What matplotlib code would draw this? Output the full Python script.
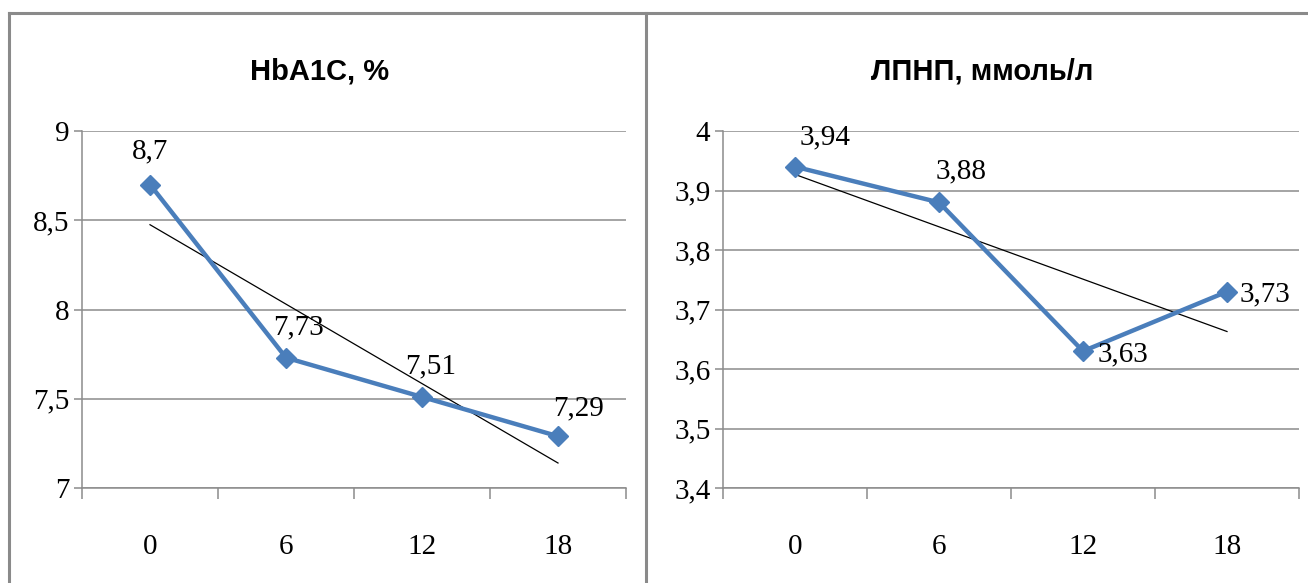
import matplotlib
matplotlib.use("Agg")
import numpy as np
import matplotlib.pyplot as plt
from matplotlib.lines import Line2D
from matplotlib.ticker import FuncFormatter, FixedLocator

# months of follow-up
months = ["0", "6", "12", "18"]

hba1c = [8.7, 7.73, 7.51, 7.29]
ldl = [3.94, 3.88, 3.63, 3.73]

# per-point label offsets (points) for the value annotations
hba1c_offsets = [(0, 24), (9, 22), (6, 22), (15, 20)]
ldl_offsets = [(22, 21), (16, 22), (29, -2), (27, -2)]

LINE_BLUE = "#4a7ebb"
GRID_GRAY = "#8c8c8c"
SERIF = ["Liberation Serif", "DejaVu Serif"]
TITLE_FONT = ["Liberation Sans Narrow", "Liberation Sans", "DejaVu Sans"]


def comma(v, pos=None):
    s = f"{v:g}"
    return s.replace(".", ",")


def draw_panel(ax, values, offsets, title, yticks, title_x):
    x = np.arange(len(values))
    ax.set_xlim(-0.5, len(values) - 0.5)
    ax.set_ylim(yticks[0], yticks[-1])

    # horizontal gridlines
    ax.set_yticks(yticks)
    ax.yaxis.grid(True, color=GRID_GRAY, linewidth=1.1)
    ax.set_axisbelow(True)

    # linear trend over the points
    k, b = np.polyfit(x, values, 1)
    ax.plot(x, k * x + b, color="black", linewidth=0.9, zorder=2)

    ax.plot(x, values, color=LINE_BLUE, linewidth=3.2, marker="D",
            markersize=10, markeredgecolor=LINE_BLUE, zorder=3)

    for xi, v, off in zip(x, values, offsets):
        ax.annotate(comma(v), (xi, v), xytext=off, textcoords="offset points",
                    ha="center", va="center", fontsize=21, family=SERIF,
                    color="black", zorder=4)

    # category ticks on boundaries, labels in the middle
    ax.xaxis.set_major_locator(FixedLocator(np.arange(-0.5, len(values), 1.0)))
    ax.xaxis.set_minor_locator(FixedLocator(x))
    ax.xaxis.set_major_formatter(FuncFormatter(lambda v, p: ""))
    ax.set_xticks(x, months, minor=True)
    ax.tick_params(axis="x", which="major", direction="out", length=8,
                   color=GRID_GRAY, width=1.1)
    ax.tick_params(axis="x", which="minor", length=0, pad=33, labelsize=21)
    ax.tick_params(axis="y", direction="out", length=6, color=GRID_GRAY,
                   width=1.1, pad=3, labelsize=21)
    ax.yaxis.set_major_formatter(FuncFormatter(comma))
    for lab in ax.get_xticklabels(minor=True) + ax.get_yticklabels():
        lab.set_family(SERIF)

    for side in ("top", "right"):
        ax.spines[side].set_visible(False)
    for side in ("left", "bottom"):
        ax.spines[side].set_color(GRID_GRAY)
        ax.spines[side].set_linewidth(1.1)

    ax.figure.text(title_x, 0.878, title, ha="center", va="center",
                   fontsize=21, fontweight="bold", family=TITLE_FONT)


W, H = 1308, 583
fig = plt.figure(figsize=(W / 100, H / 100), dpi=100)

ax1 = fig.add_axes([82 / W, 1 - 488 / H, 544 / W, 357 / H])
ax2 = fig.add_axes([723 / W, 1 - 488 / H, 576 / W, 357 / H])

draw_panel(ax1, hba1c, hba1c_offsets, "HbA1C, %",
           [7, 7.5, 8, 8.5, 9], 320 / W)
draw_panel(ax2, ldl, ldl_offsets, "ЛПНП, ммоль/л",
           [3.4, 3.5, 3.6, 3.7, 3.8, 3.9, 4.0], 982 / W)

# chart-area frames of the two panels
frame_kw = dict(color="#8a8a8a", linewidth=2.2, transform=fig.transFigure)
top = 1 - 13 / H
fig.add_artist(Line2D([9 / W, 1], [top, top], **frame_kw))
fig.add_artist(Line2D([9 / W, 9 / W], [0, top], **frame_kw))
fig.add_artist(Line2D([646 / W, 646 / W], [0, top], **frame_kw))

fig.savefig("out.png", dpi=100)
